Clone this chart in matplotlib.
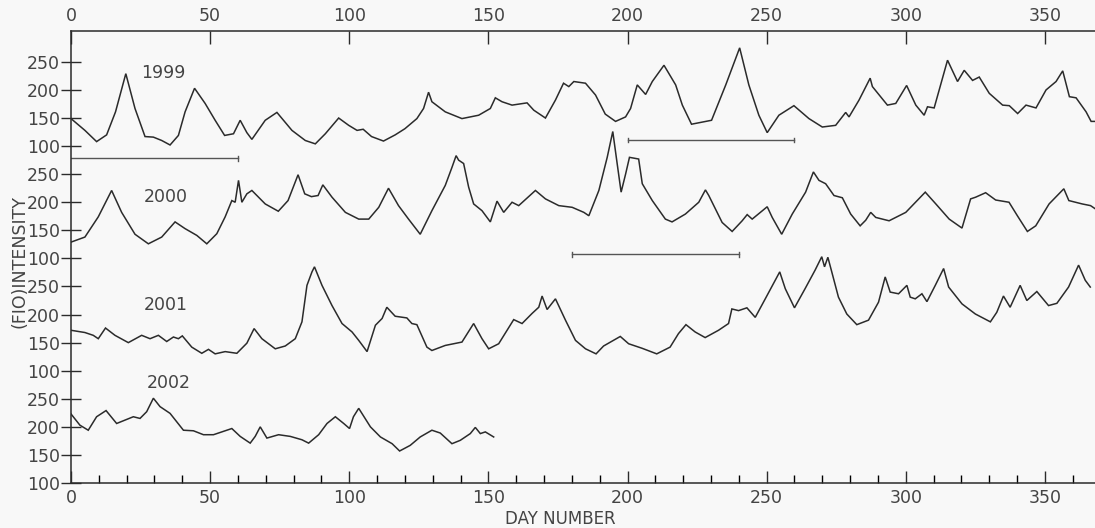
import matplotlib
matplotlib.use("Agg")
import matplotlib.pyplot as plt
from matplotlib.ticker import MultipleLocator

# ---------------- data ----------------
years = ["1999", "2000", "2001", "2002"]

days_1999 = [0, 5, 9.2, 12.8, 16, 19.7, 23, 26.6, 29.6, 32.6, 35.6, 38.6, 41, 44.4, 48.2,
             51.8, 55.2, 58.4, 60.8, 63.2, 65, 69.8, 74, 79.4, 84.2, 87.8, 91.4, 96.2, 99.8,
             102.8, 105, 108, 112.3, 116.5, 120, 124.3, 126.7, 128.5, 129.7, 134.5, 140.5,
             146.5, 150.7, 152.5, 154.9, 158.5, 163.9, 166.3, 170.5, 174.1, 177, 178.9, 180.7,
             184.9, 188.5, 192, 195.7, 199.3, 201.1, 203.5, 206.5, 208.9, 213.1, 217.3, 219.7,
             223, 230.2, 235.3, 240.3, 243.6, 247.2, 250.2, 254.4, 259.8, 265.2, 270, 274.8,
             278.4, 279.6, 283.2, 287.2, 288, 293.4, 296.4, 300.3, 303.6, 306.6, 307.8, 310.2,
             315, 318.6, 321, 324, 326.4, 330, 334.8, 337.2, 340.2, 343.2, 346.8, 350.4, 354,
             356.4, 358.8, 361.2, 364.8, 366.6, 368.4]
vals_1999 = [149, 128, 108, 120, 161, 229, 167, 117, 116, 110, 102, 119, 161, 203, 176,
             146, 119, 122, 146, 124, 112, 146, 160, 128, 110, 104, 122, 150, 137,
             128, 130, 117, 109, 120, 131, 149, 167, 196, 179, 161, 149,
             155, 167, 186, 179, 173, 177, 164, 150, 182, 212, 206, 215,
             212, 191, 157, 144, 152, 167, 209, 192, 215, 244, 209, 173,
             139, 146, 209, 275, 209, 155, 124, 155, 172, 149, 134, 137,
             160, 152, 182, 221, 206, 173, 176, 208, 173, 155, 170, 168,
             253, 215, 235, 217, 223, 194, 173, 172, 158, 173, 168, 200, 215,
             234, 188, 186, 161, 144, 144]

days_2000 = [0, 5, 9.8, 14.6, 18.2, 23, 27.8, 32.6, 37.4, 41, 45.2, 48.8, 52.4, 55.4, 57.8,
             59, 60.2, 61.4, 63.2, 65, 69.8, 74.5, 78, 81.6, 84, 86.4, 88.8, 90.5, 93.8, 98.6,
             103.4, 107, 110.6, 114.1, 117.7, 121.3, 125.5, 129.7, 134.5, 136.9, 138.4, 139.3,
             141.1, 142.9, 144.7, 147.7, 150.7, 153.1, 155.5, 158.5, 160.9, 166.9, 170.5,
             175.3, 180.1, 184.3, 186.1, 189.7, 192.7, 194.7, 196.3, 197.7, 199.3, 200.7, 204,
             205.3, 208.9, 213.6, 216, 220.8, 225.6, 228, 229.2, 234, 237.6, 241.2, 243,
             244.8, 250.2, 252, 255.4, 259.2, 264, 266.8, 268.8, 271.2, 274.2, 277.2, 280.2,
             283.6, 285.6, 287.4, 289.2, 294, 300, 307, 310.8, 315.6, 320.2, 323.3, 325.1,
             328.7, 332.3, 337.1, 340.1, 343.7, 346.7, 351.5, 356.8, 358.6, 363.4, 366.4, 368.2]
vals_2000 = [129, 138, 174, 221, 182, 143, 126, 138, 165, 153, 141, 126, 144, 174, 203,
             200, 239, 200, 215, 221, 197, 184, 203, 249, 215, 210, 212, 231, 209, 182,
             170, 170, 191, 225, 194, 170, 143, 185, 230, 262, 283, 275,
             269, 227, 197, 185, 165, 202, 182, 200, 194, 221, 206,
             194, 191, 182, 176, 221, 280, 326, 268, 218, 250, 280, 277,
             233, 203, 170, 165, 179, 200, 222, 212, 164, 148, 167, 178,
             170, 192, 173, 143, 179, 218, 254, 239, 233, 212, 208, 179,
             158, 168, 182, 173, 167, 182, 218, 197, 170, 154, 206, 209,
             217, 204, 200, 176, 148, 158, 197, 224, 203, 197, 194, 188]

days_2001 = [0, 5, 8, 9.8, 12.4, 15.8, 20.6, 25.4, 28.4, 31.4, 34.4, 36.8, 38.6, 40, 43.4,
             47, 49.4, 51.8, 55.4, 59.6, 63.2, 65.8, 68.6, 73.4, 77, 80.6, 83, 84.8, 86.6,
             87.5, 90.2, 93.8, 97.4, 101, 103.4, 106.4, 109.4, 111.8, 113.5, 116.5, 120.7,
             122.5, 124.3, 127.9, 129.7, 134.5, 140.5, 144.7, 147.7, 150.1, 153.7, 159.1,
             162.1, 165.7, 168.1, 169.3, 171.1, 174.1, 177.7, 181.3, 184.9, 188.7, 191.4,
             197.4, 200.4, 205.2, 210.5, 215.3, 218.3, 221, 224.3, 227.9, 232.7, 236.3, 237.5,
             239.9, 242.9, 245.9, 249.5, 254.7, 256.7, 260, 263.8, 267.4, 269.8, 270.8, 272,
             273.4, 275.8, 278.8, 282.4, 286.6, 290.2, 292.6, 294.4, 297.4, 300.4, 301.6,
             303.4, 305.8, 307.6, 310.6, 313.6, 315.4, 320.2, 325, 330.4, 332.7, 335.1, 337.5,
             341.1, 343.5, 347.1, 351.3, 354.3, 358.5, 362.1, 364.5, 366.3]
vals_2001 = [172, 168, 163, 157, 176, 163, 150, 163, 157, 163, 152, 160, 157, 162, 142,
             131, 138, 130, 134, 131, 149, 175, 157, 139, 144, 157, 187, 252, 276,
             285, 252, 216, 184, 169, 154, 134, 181, 193, 213, 197, 194,
             184, 182, 142, 136, 145, 151, 184, 157, 139, 148, 191,
             184, 202, 213, 233, 209, 228, 190, 154, 139, 130, 144,
             161, 148, 140, 130, 142, 166, 182, 169, 159, 172, 184, 210,
             207, 212, 195, 228, 276, 246, 212, 246, 279, 303, 285, 302,
             276, 231, 201, 182, 190, 222, 267, 240, 237, 252, 231,
             228, 237, 223, 252, 282, 249, 219, 201, 187, 204, 233, 213,
             252, 225, 241, 216, 220, 249, 288, 261, 249]

days_2002 = [0, 3.2, 6.2, 9.2, 12.6, 16.4, 19.4, 22.4, 24.8, 27.2, 29.6, 32, 35.6, 40.4, 44,
             47.6, 51.2, 57.8, 60.8, 64.4, 66.2, 68, 70.4, 74.6, 78.8, 83, 85.4, 89, 92, 95,
             98, 100.1, 101.5, 103.4, 107.6, 111.2, 115.4, 118.1, 121.9, 125.5, 129.7, 132.7,
             136.9, 139.9, 143.5, 145.3, 147.1, 148.9, 151.9]
vals_2002 = [223, 203, 194, 218, 229, 206, 212, 218, 215, 227, 251, 236, 224, 194, 193,
             186, 186, 197, 183, 171, 183, 200, 180, 186, 183, 177, 171, 186, 206, 218,
             206, 197, 218, 233, 200, 182, 170, 157, 167, 182, 194, 189,
             170, 176, 188, 199, 188, 191, 182]

# horizontal interval markers: (panel, start day, end day, level in that panel's units)
bar_panel = ["1999", "1999", "2000"]
bar_start = [0, 200, 180]
bar_end = [60, 260, 240]
bar_level = [78, 111, 107]

y_ticks = [100, 150, 200, 250]
x_major = [0, 50, 100, 150, 200, 250, 300, 350]

# ---------------- layout / style ----------------
offsets = {"1999": 600, "2000": 400, "2001": 200, "2002": 0}
series = {"1999": (days_1999, vals_1999), "2000": (days_2000, vals_2000),
          "2001": (days_2001, vals_2001), "2002": (days_2002, vals_2002)}
label_pos = {"1999": (33, 230), "2000": (34, 209), "2001": (34, 217), "2002": (35, 278)}

ink = "#2b2b2b"
txt = "#444444"
plt.rcParams["font.family"] = ["DejaVu Sans"]

fig = plt.figure(figsize=(10.95, 5.28), dpi=100, facecolor="#f8f8f8")
ax = fig.add_axes([71 / 1095, 45 / 528, 1 - 71 / 1095, (483 - 31) / 528])
ax.set_facecolor("#f8f8f8")

for yr in years:
    d, v = series[yr]
    off = offsets[yr]
    ax.plot(d, [x + off for x in v], color=ink, lw=1.1, solid_joinstyle="miter")
    lx, ly = label_pos[yr]
    ax.text(lx, ly + off, yr, ha="center", va="center", fontsize=12.5, color=txt)

for p, s, e, lvl in zip(bar_panel, bar_start, bar_end, bar_level):
    yy = lvl + offsets[p]
    ax.plot([s, e], [yy, yy], color="#555555", lw=1.0)
    ax.plot([e, e], [yy - 4, yy + 4], color="#555555", lw=1.0)
    if s > 0:
        ax.plot([s, s], [yy - 4, yy + 4], color="#555555", lw=1.0)

ax.set_xlim(0, 368)
ax.set_ylim(100, 905)

yt, yl = [], []
for yr in years:
    for t in y_ticks:
        yt.append(t + offsets[yr])
        yl.append(str(t))
ax.set_yticks(yt)
ax.set_yticklabels(yl)

ax.set_xticks(x_major)
ax.set_xticklabels([str(t) for t in x_major])
ax.xaxis.set_minor_locator(MultipleLocator(10))
ax.tick_params(axis="x", which="major", direction="in", length=9, width=1.0,
               top=True, labeltop=True, bottom=True, labelbottom=True,
               pad=4, labelsize=12.5, colors=ink)
ax.tick_params(axis="x", which="minor", direction="in", length=6, width=1.0,
               top=False, bottom=True)
ax.tick_params(axis="y", which="major", direction="inout", length=14, width=1.0,
               pad=1, labelsize=12.5, colors=ink)
for lab in ax.get_xticklabels() + ax.get_yticklabels():
    lab.set_color(txt)

ax.spines["right"].set_visible(False)
for sp in ("left", "top", "bottom"):
    ax.spines[sp].set_color(ink)
    ax.spines[sp].set_linewidth(1.1)

fig.text(20 / 1095, 1 - 262 / 528, "(FIO)INTENSITY", rotation=90, ha="center",
         va="center", fontsize=12.5, color=txt)
fig.text(560 / 1095, 1 - 519 / 528, "DAY NUMBER", ha="center", va="center",
         fontsize=12, color=txt)

fig.savefig("out.png", dpi=100, facecolor=fig.get_facecolor())
